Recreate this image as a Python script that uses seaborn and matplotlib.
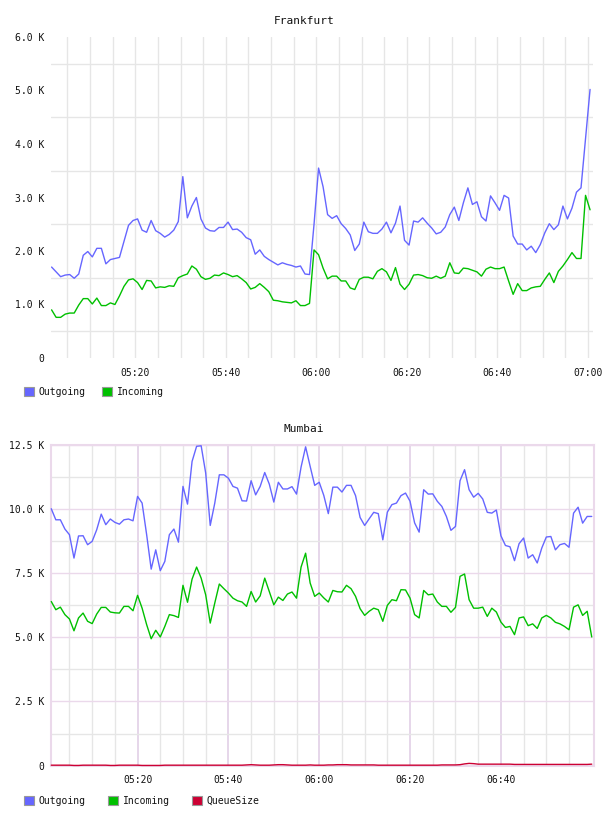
import matplotlib
matplotlib.use("Agg")
import numpy as np
import pandas as pd
import seaborn as sns
import matplotlib.pyplot as plt
import matplotlib.dates as mdates
from matplotlib.patches import Patch
from matplotlib.ticker import FixedLocator, FuncFormatter

# ---------------- data (values in thousands) ----------------
series_names = ["Outgoing", "Incoming", "QueueSize"]
series_colors = ["#6666ff", "#00c000", "#cc0033"]

frankfurt_start = "2024-01-01 05:01:30"
mumbai_start = "2024-01-01 05:01:00"
n_samples = 120  # one sample per minute

frankfurt_outgoing = [
    1.70, 1.61, 1.52, 1.55, 1.56, 1.49, 1.57, 1.92, 1.99, 1.89,
    2.05, 2.05, 1.76, 1.84, 1.86, 1.88, 2.18, 2.48, 2.57, 2.60,
    2.39, 2.35, 2.57, 2.38, 2.33, 2.26, 2.31, 2.39, 2.55, 3.39,
    2.62, 2.84, 3.00, 2.60, 2.43, 2.38, 2.37, 2.44, 2.44, 2.54,
    2.40, 2.41, 2.35, 2.25, 2.21, 1.94, 2.02, 1.90, 1.84, 1.79,
    1.74, 1.78, 1.75, 1.73, 1.70, 1.72, 1.57, 1.56, 2.50, 3.55,
    3.20, 2.68, 2.61, 2.66, 2.51, 2.42, 2.30, 2.01, 2.13, 2.54,
    2.36, 2.33, 2.33, 2.41, 2.54, 2.34, 2.52, 2.84, 2.20, 2.11,
    2.56, 2.54, 2.62, 2.52, 2.43, 2.32, 2.35, 2.45, 2.68, 2.82,
    2.57, 2.90, 3.18, 2.87, 2.92, 2.64, 2.56, 3.03, 2.90, 2.76,
    3.04, 2.99, 2.28, 2.13, 2.13, 2.02, 2.09, 1.97, 2.12, 2.34,
    2.51, 2.40, 2.49, 2.84, 2.60, 2.80, 3.10, 3.18, 4.10, 5.02]

frankfurt_incoming = [
    0.90, 0.76, 0.76, 0.82, 0.84, 0.84, 0.99, 1.11, 1.11, 1.01,
    1.12, 0.98, 0.98, 1.03, 1.00, 1.16, 1.34, 1.46, 1.48, 1.41,
    1.28, 1.45, 1.44, 1.31, 1.33, 1.32, 1.35, 1.34, 1.50, 1.54,
    1.57, 1.72, 1.66, 1.52, 1.47, 1.49, 1.55, 1.54, 1.59, 1.56,
    1.52, 1.54, 1.48, 1.41, 1.29, 1.32, 1.39, 1.32, 1.24, 1.08,
    1.07, 1.05, 1.04, 1.03, 1.07, 0.98, 0.98, 1.02, 2.02, 1.93,
    1.68, 1.48, 1.53, 1.53, 1.44, 1.44, 1.31, 1.28, 1.47, 1.51,
    1.51, 1.48, 1.62, 1.67, 1.61, 1.45, 1.69, 1.38, 1.28, 1.38,
    1.55, 1.56, 1.54, 1.50, 1.49, 1.53, 1.49, 1.53, 1.78, 1.59,
    1.58, 1.68, 1.67, 1.64, 1.61, 1.53, 1.66, 1.70, 1.67, 1.67,
    1.70, 1.44, 1.19, 1.39, 1.26, 1.26, 1.31, 1.33, 1.34, 1.47,
    1.59, 1.41, 1.62, 1.72, 1.84, 1.97, 1.86, 1.86, 3.04, 2.77]

mumbai_outgoing = [
    10.00, 9.57, 9.57, 9.21, 8.99, 8.08, 8.94, 8.95, 8.60, 8.73,
    9.18, 9.79, 9.38, 9.60, 9.47, 9.40, 9.57, 9.60, 9.53, 10.48,
    10.22, 8.99, 7.65, 8.40, 7.59, 7.95, 8.99, 9.21, 8.70, 10.87,
    10.18, 11.84, 12.43, 12.45, 11.39, 9.35, 10.22, 11.32, 11.32, 11.19,
    10.87, 10.80, 10.31, 10.30, 11.09, 10.54, 10.87, 11.41, 10.96, 10.26,
    11.03, 10.77, 10.77, 10.86, 10.57, 11.62, 12.41, 11.65, 10.91, 11.03,
    10.52, 9.81, 10.84, 10.84, 10.65, 10.91, 10.91, 10.51, 9.66, 9.35,
    9.61, 9.86, 9.81, 8.79, 9.87, 10.16, 10.22, 10.51, 10.61, 10.29,
    9.45, 9.09, 10.74, 10.57, 10.58, 10.29, 10.09, 9.70, 9.16, 9.31,
    11.09, 11.52, 10.74, 10.45, 10.60, 10.38, 9.86, 9.83, 9.95, 8.95,
    8.57, 8.52, 7.98, 8.64, 8.86, 8.08, 8.21, 7.89, 8.47, 8.90,
    8.92, 8.40, 8.60, 8.65, 8.50, 9.83, 10.06, 9.44, 9.70, 9.70]

mumbai_incoming = [
    6.39, 6.07, 6.17, 5.88, 5.71, 5.25, 5.75, 5.94, 5.62, 5.53,
    5.90, 6.16, 6.16, 5.98, 5.95, 5.94, 6.20, 6.20, 6.03, 6.63,
    6.13, 5.49, 4.94, 5.27, 5.01, 5.42, 5.88, 5.84, 5.77, 7.02,
    6.36, 7.26, 7.73, 7.30, 6.65, 5.55, 6.33, 7.07, 6.89, 6.72,
    6.52, 6.42, 6.37, 6.20, 6.78, 6.37, 6.61, 7.30, 6.78, 6.26,
    6.56, 6.43, 6.68, 6.76, 6.52, 7.73, 8.27, 7.11, 6.59, 6.72,
    6.53, 6.37, 6.82, 6.77, 6.76, 7.02, 6.89, 6.59, 6.11, 5.85,
    6.01, 6.13, 6.07, 5.62, 6.24, 6.46, 6.42, 6.85, 6.84, 6.52,
    5.88, 5.75, 6.82, 6.65, 6.68, 6.37, 6.20, 6.20, 5.97, 6.16,
    7.37, 7.46, 6.46, 6.13, 6.13, 6.17, 5.81, 6.13, 5.98, 5.59,
    5.38, 5.42, 5.10, 5.75, 5.79, 5.45, 5.52, 5.34, 5.75, 5.85,
    5.75, 5.58, 5.52, 5.42, 5.29, 6.17, 6.26, 5.85, 6.01, 5.01]

mumbai_queue = [
    0.02, 0.02, 0.02, 0.02, 0.02, 0.01, 0.01, 0.02, 0.02, 0.02,
    0.02, 0.02, 0.02, 0.01, 0.01, 0.02, 0.02, 0.02, 0.02, 0.02,
    0.01, 0.01, 0.01, 0.01, 0.01, 0.02, 0.02, 0.02, 0.02, 0.02,
    0.02, 0.02, 0.02, 0.02, 0.02, 0.02, 0.02, 0.02, 0.02, 0.02,
    0.02, 0.02, 0.02, 0.03, 0.04, 0.03, 0.02, 0.02, 0.02, 0.03,
    0.04, 0.04, 0.03, 0.02, 0.02, 0.02, 0.02, 0.03, 0.02, 0.02,
    0.02, 0.03, 0.03, 0.04, 0.04, 0.04, 0.03, 0.03, 0.03, 0.03,
    0.03, 0.03, 0.02, 0.02, 0.02, 0.02, 0.02, 0.02, 0.02, 0.02,
    0.02, 0.02, 0.02, 0.02, 0.02, 0.02, 0.03, 0.03, 0.03, 0.03,
    0.04, 0.07, 0.09, 0.08, 0.06, 0.06, 0.06, 0.06, 0.06, 0.06,
    0.06, 0.06, 0.05, 0.05, 0.05, 0.05, 0.05, 0.05, 0.05, 0.05,
    0.05, 0.05, 0.05, 0.05, 0.05, 0.05, 0.05, 0.05, 0.05, 0.06]

frankfurt_yticks = [0, 1, 2, 3, 4, 5, 6]
mumbai_yticks = [0, 2.5, 5, 7.5, 10, 12.5]

# ---------------- style ----------------
sns.set_theme(style="white")
plt.rcParams["font.family"] = ["DejaVu Sans Mono", "DejaVu Sans"]

FS = 7
GRAY = "#e6e6e6"
PINK = "#ebd9eb"
PINK_V = "#e2d0e6"
TXT = "#111111"

fig = plt.figure(figsize=(6.08, 8.16), dpi=100)
fig.patch.set_facecolor("white")

W, H = 608.0, 816.0
def axes_px(left, top, right, bottom):
    return fig.add_axes([left / W, 1 - bottom / H, (right - left) / W, (bottom - top) / H])

ax1 = axes_px(51, 37, 593, 358)
ax2 = axes_px(51, 444.5, 593.5, 765.7)

def to_df(start, cols):
    t = pd.date_range(start, periods=n_samples, freq="1min")
    d = {"time": t}
    d.update(cols)
    return pd.DataFrame(d).melt(id_vars="time", var_name="series", value_name="value")

fr_df = to_df(frankfurt_start, {"Outgoing": frankfurt_outgoing, "Incoming": frankfurt_incoming})
mu_df = to_df(mumbai_start, {"Outgoing": mumbai_outgoing, "Incoming": mumbai_incoming,
                             "QueueSize": mumbai_queue})
palette = dict(zip(series_names, series_colors))

sns.lineplot(data=fr_df, x="time", y="value", hue="series", hue_order=series_names[:2],
             palette=palette, linewidth=1.0, legend=False, errorbar=None, ax=ax1)
sns.lineplot(data=mu_df, x="time", y="value", hue="series", hue_order=series_names,
             palette=palette, linewidth=1.0, legend=False, errorbar=None, ax=ax2)
for ln in ax2.get_lines():
    ln.set_clip_on(False)
    ln.set_zorder(5)

def kfmt(v, pos=None):
    if abs(v) < 1e-9:
        return "0"
    return f"{v:.1f} K"

base = pd.Timestamp("2024-01-01 05:00:00")
def tm(minutes):
    return mdates.date2num(base + pd.Timedelta(minutes=minutes))

# ---- Frankfurt axes ----
ax1.set_xlim(tm(1.37), tm(121.15))
ax1.set_ylim(0, 6)
ax1.xaxis.set_major_locator(FixedLocator([tm(m) for m in (20, 40, 60, 80, 100, 120)]))
ax1.xaxis.set_minor_locator(FixedLocator([tm(m) for m in range(5, 121, 5)]))
ax1.xaxis.set_major_formatter(mdates.DateFormatter("%H:%M"))
ax1.yaxis.set_major_locator(FixedLocator(frankfurt_yticks))
ax1.yaxis.set_minor_locator(FixedLocator([0.5, 1.5, 2.5, 3.5, 4.5, 5.5]))
ax1.yaxis.set_major_formatter(FuncFormatter(kfmt))
ax1.grid(False)
ax1.xaxis.grid(True, which="both", color=GRAY, linewidth=1.0)
ax1.yaxis.grid(True, which="minor", color=GRAY, linewidth=1.0)
for s in ax1.spines.values():
    s.set_visible(False)

# ---- Mumbai axes ----
ax2.set_xlim(tm(0.94), tm(120.39))
ax2.set_ylim(0, 12.5)
ax2.xaxis.set_major_locator(FixedLocator([tm(m) for m in (20, 40, 60, 80, 100)]))
ax2.xaxis.set_minor_locator(FixedLocator([tm(m) for m in range(5, 116, 5)]))
ax2.xaxis.set_major_formatter(mdates.DateFormatter("%H:%M"))
ax2.yaxis.set_major_locator(FixedLocator(mumbai_yticks))
ax2.yaxis.set_minor_locator(FixedLocator([1.25, 3.75, 6.25, 8.75, 11.25]))
ax2.yaxis.set_major_formatter(FuncFormatter(kfmt))
ax2.grid(False)
ax2.xaxis.grid(True, which="major", color=PINK_V, linewidth=1.2)
ax2.xaxis.grid(True, which="minor", color=GRAY, linewidth=1.0)
ax2.yaxis.grid(True, which="major", color=PINK, linewidth=1.0)
ax2.yaxis.grid(True, which="minor", color=GRAY, linewidth=1.0)
for s in ax2.spines.values():
    s.set_visible(True)
    s.set_color(PINK)
    s.set_linewidth(1.5)

for ax in (ax1, ax2):
    ax.set_facecolor("white")
    ax.set_axisbelow(True)
    ax.set_xlabel("")
    ax.set_ylabel("")
    ax.tick_params(which="both", length=0, labelsize=FS, colors=TXT)
    ax.tick_params(axis="y", pad=5)
    ax.tick_params(axis="x", pad=7)

# ---- titles ----
fig.text(0.5, 1 - 20.7 / H, "Frankfurt", ha="center", va="center", fontsize=8, color=TXT)
fig.text(0.5, 1 - 429.3 / H, "Mumbai", ha="center", va="center", fontsize=8, color=TXT)

# ---- legends ----
def legend(names, y_px, spacing):
    handles = [Patch(facecolor=palette[n], edgecolor="#999999", linewidth=0.8, label=n) for n in names]
    fig.legend(handles=handles, loc="center left", bbox_to_anchor=(24 / W, 1 - y_px / H),
               ncol=len(names), frameon=False, fontsize=FS, handlelength=1.03,
               handleheight=1.03, handletextpad=0.5, columnspacing=spacing,
               borderpad=0, borderaxespad=0, labelcolor=TXT)

legend(series_names[:2], 392, 1.67)
legend(series_names, 800.7, 2.25)

fig.savefig("out.png", dpi=100, facecolor="white")
